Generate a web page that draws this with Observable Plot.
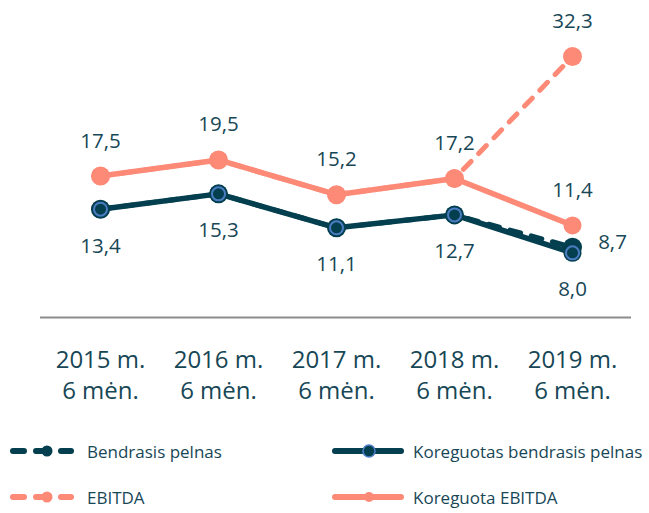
<!DOCTYPE html>
<html>
<head>
<meta charset="utf-8">
<script src="https://cdn.jsdelivr.net/npm/d3@7"></script>
<script src="https://cdn.jsdelivr.net/npm/@observablehq/plot@0.6"></script>
<style>
  html, body { margin: 0; padding: 0; background: #fff; }
  body { width: 649px; height: 513px; overflow: hidden; font-family: "Open Sans", sans-serif; }
  #legend { position: relative; width: 649px; height: 93px; color: #174756; font-size: 17px; }
  .item { position: absolute; display: flex; align-items: center; height: 30px; }
  .item svg { display: block; }
</style>
</head>
<body>
<div id="chart"></div>
<div id="legend"></div>
<script>
// ---- data ----
const periods = ["2015 m.\n6 mėn.", "2016 m.\n6 mėn.", "2017 m.\n6 mėn.", "2018 m.\n6 mėn.", "2019 m.\n6 mėn."];
const bendrasisPelnas = [13.4, 15.3, 11.1, 12.7, 8.7];
const koreguotasBendrasisPelnas = [13.4, 15.3, 11.1, 12.7, 8.0];
const ebitda = [17.5, 19.5, 15.2, 17.2, 32.3];
const koreguotaEbitda = [17.5, 19.5, 15.2, 17.2, 11.4];
const seriesNames = ["Bendrasis pelnas", "Koreguotas bendrasis pelnas", "EBITDA", "Koreguota EBITDA"];

// ---- styles ----
const DARK = "#033f4f";
const TEXT = "#174756";
const SALMON = "#fd8a77";
const RING = "#4b7cc2";

const rows = periods.map((p, i) => ({
  p, b: bendrasisPelnas[i], kb: koreguotasBendrasisPelnas[i], e: ebitda[i], ke: koreguotaEbitda[i]
}));
const last = rows.slice(-1);
const fmt = v => v.toFixed(1).replace(".", ",");

const chart = Plot.plot({
  width: 649,
  height: 420,
  marginLeft: 40,
  marginRight: 18,
  marginTop: 56,
  marginBottom: 103,
  style: { fontFamily: "Open Sans, sans-serif", color: TEXT, background: "#fff" },
  x: { type: "point", domain: periods, padding: 0.5, label: null },
  y: { domain: [0, 32.3], axis: null, label: null },
  marks: [
    Plot.ruleY([0], { stroke: "#8c8c8c", strokeWidth: 2 }),
    Plot.axisX({ tickSize: 0, tickPadding: 29, fontSize: 24, lineHeight: 1.28, fill: TEXT, label: null }),
    // dashed (unadjusted) series
    Plot.line(rows, { x: "p", y: "e", stroke: SALMON, strokeWidth: 5, strokeDasharray: "11 11", strokeLinecap: "round" }),
    Plot.line(rows, { x: "p", y: "b", stroke: DARK, strokeWidth: 5, strokeDasharray: "11 11", strokeLinecap: "round" }),
    Plot.dot(rows, { x: "p", y: "e", r: 9.5, fill: SALMON }),
    Plot.dot(rows, { x: "p", y: "b", r: 9.5, fill: DARK }),
    // solid (adjusted) series
    Plot.line(rows, { x: "p", y: "ke", stroke: SALMON, strokeWidth: 5.5 }),
    Plot.line(rows, { x: "p", y: "kb", stroke: DARK, strokeWidth: 5.5 }),
    Plot.dot(rows, { x: "p", y: "ke", r: 9, fill: SALMON }),
    Plot.dot(rows, { x: "p", y: "kb", r: 9, fill: DARK }),
    Plot.dot(rows, { x: "p", y: "kb", r: 6.5, fill: DARK, stroke: RING, strokeWidth: 2 }),
    // value labels
    Plot.text(rows, { x: "p", y: "ke", text: d => fmt(d.ke), dy: -35, fontSize: 20.5, fill: TEXT }),
    Plot.text(last, { x: "p", y: "e", text: d => fmt(d.e), dy: -35, fontSize: 20.5, fill: TEXT }),
    Plot.text(rows, { x: "p", y: "kb", text: d => fmt(d.kb), dy: 37, fontSize: 20.5, fill: TEXT }),
    Plot.text(last, { x: "p", y: "b", text: d => fmt(d.b), dx: 40, dy: -5, fontSize: 20.5, fill: TEXT })
  ]
});
document.getElementById("chart").appendChild(chart);

// ---- legend ----
const legend = document.getElementById("legend");
function dashedSwatch(color) {
  const segs = [[10, 27], [33, 52], [58, 74]];
  let s = `<svg width="80" height="30">`;
  for (const [a, b] of segs) s += `<line x1="${a + 3}" x2="${b - 3}" y1="15" y2="15" stroke="${color}" stroke-width="6" stroke-linecap="round"/>`;
  s += `<circle cx="47" cy="15" r="5.5" fill="${color}"/></svg>`;
  return s;
}
function solidSwatch(color, ring) {
  let s = `<svg width="80" height="30"><line x1="3" x2="69" y1="15" y2="15" stroke="${color}" stroke-width="6" stroke-linecap="round"/>`;
  if (ring) s += `<circle cx="37" cy="15" r="6" fill="${color}" stroke="${ring}" stroke-width="1.6"/>`;
  else s += `<circle cx="37" cy="15" r="5" fill="${color}"/>`;
  return s + `</svg>`;
}
const items = [
  { name: seriesNames[0], sw: dashedSwatch(DARK), left: 0, top: 16, textLeft: 87 },
  { name: seriesNames[1], sw: solidSwatch(DARK, RING), left: 332, top: 16, textLeft: 413 },
  { name: seriesNames[2], sw: dashedSwatch(SALMON), left: 0, top: 62, textLeft: 87 },
  { name: seriesNames[3], sw: solidSwatch(SALMON, null), left: 332, top: 62, textLeft: 413 }
];
for (const it of items) {
  const sw = document.createElement("div");
  sw.className = "item";
  sw.style.left = it.left + "px";
  sw.style.top = it.top + "px";
  sw.innerHTML = it.sw;
  legend.appendChild(sw);
  const tx = document.createElement("div");
  tx.className = "item";
  tx.style.left = it.textLeft + "px";
  tx.style.top = it.top + "px";
  tx.textContent = it.name;
  legend.appendChild(tx);
}
</script>
</body>
</html>
